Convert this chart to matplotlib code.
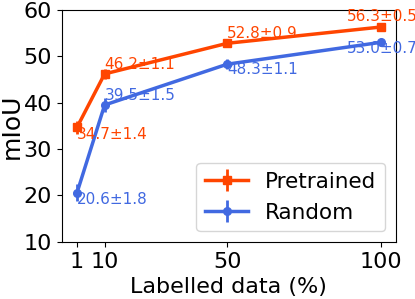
import matplotlib
matplotlib.use("Agg")
import matplotlib.pyplot as plt

x = [1, 10, 50, 100]
pre_mean = [34.7, 46.2, 52.8, 56.3]
pre_std = [1.4, 1.1, 0.9, 0.5]
rnd_mean = [20.6, 39.5, 48.3, 53.0]
rnd_std = [1.8, 1.5, 1.1, 0.7]
xticks = [1, 10, 50, 100]
yticks = [10, 20, 30, 40, 50, 60]

# label offsets (dx, dy) in data units
pre_off = [(0, -2.5), (0, 1.0), (0, 1.2), (-11, 1.2)]
rnd_off = [(0, -2.5), (0, 1.0), (0, -2.2), (-11, -2.2)]

c_pre = "#FF4500"
c_rnd = "#4169E1"

fig = plt.figure(figsize=(4.15, 2.99), dpi=100)
ax = fig.add_axes([0.149, 0.191, 0.805, 0.776])

ax.errorbar(x, pre_mean, yerr=pre_std, color=c_pre, marker="s", markersize=5.5,
            linewidth=2.5, elinewidth=2, label="Pretrained")
ax.errorbar(x, rnd_mean, yerr=rnd_std, color=c_rnd, marker="o", markersize=5.5,
            linewidth=2.5, elinewidth=2, label="Random")

for xi, m, s, (dx, dy) in zip(x, pre_mean, pre_std, pre_off):
    ax.text(xi + dx, m + dy, f"{m:.1f}±{s:.1f}", color=c_pre, fontsize=11, clip_on=False)
for xi, m, s, (dx, dy) in zip(x, rnd_mean, rnd_std, rnd_off):
    ax.text(xi + dx, m + dy, f"{m:.1f}±{s:.1f}", color=c_rnd, fontsize=11, clip_on=False)

ax.set_ylim(10, 60)
ax.set_xticks(xticks)
ax.set_yticks(yticks)
ax.tick_params(labelsize=16)
ax.set_xlabel("Labelled data (%)", fontsize=16)
ax.set_ylabel("mIoU", fontsize=18)
ax.yaxis.set_label_coords(-0.114, 0.5)
ax.legend(loc="lower right", fontsize=15.5)

fig.savefig("out.png", dpi=100)
